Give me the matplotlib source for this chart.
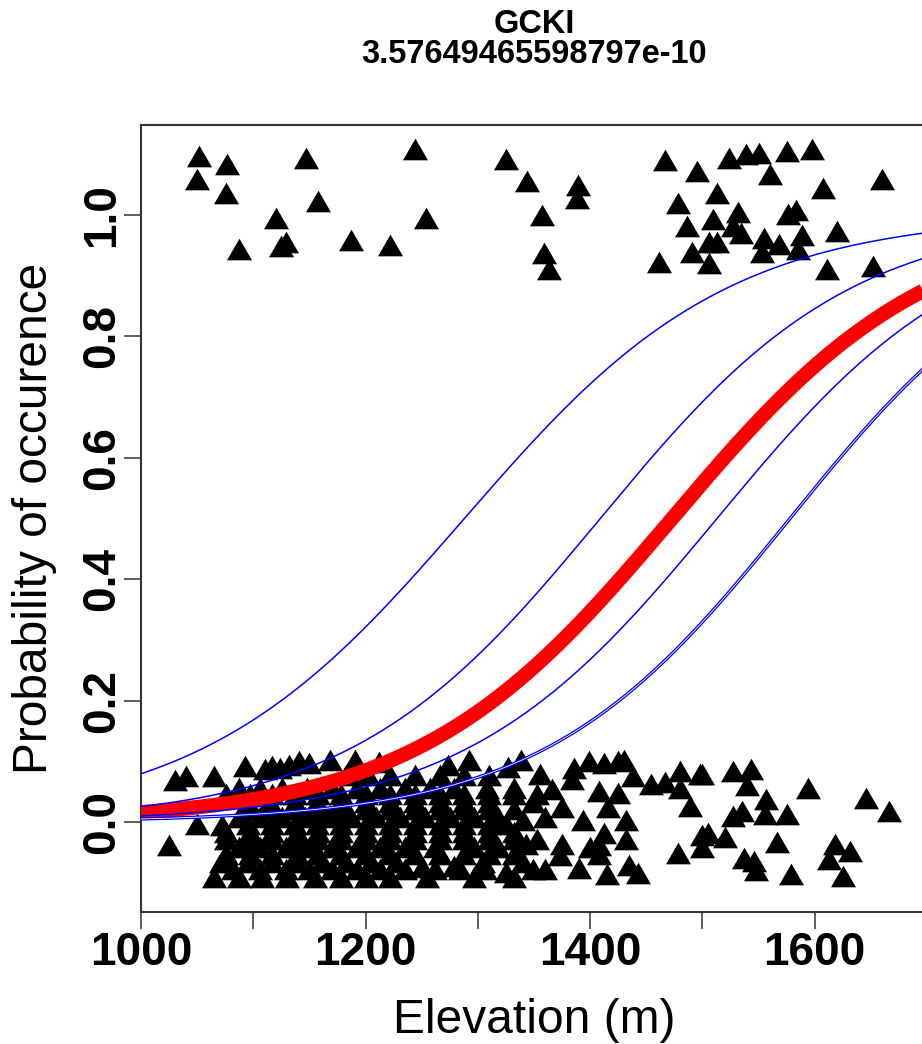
import numpy as np
import matplotlib
matplotlib.use("Agg")
import matplotlib.pyplot as plt

plt.rcParams['font.family'] = ['Liberation Sans', 'DejaVu Sans']

# ---------------- data ----------------
species = "GCKI"
p_value_text = "3.57649465598797e-10"

# presence points (jittered around 1)
pres_elev = [1052, 1077, 1050, 1076, 1147, 1158, 1244, 1120, 1254, 1087, 1129, 1125,
             1187, 1222, 1325, 1344, 1357, 1389, 1388, 1359, 1363, 1467, 1495, 1524,
             1539, 1550, 1575, 1598, 1560, 1660, 1513, 1478, 1532, 1607, 1583, 1576,
             1509, 1486, 1527, 1534, 1506, 1513, 1491, 1555, 1553, 1568, 1585, 1589,
             1620, 1506, 1461, 1611, 1652]
pres_y = [1.097, 1.084, 1.059, 1.036, 1.094, 1.023, 1.108, 0.995, 0.995, 0.944, 0.956, 0.949,
          0.959, 0.951, 1.092, 1.056, 1.000, 1.049, 1.028, 0.938, 0.911, 1.090, 1.072, 1.094,
          1.100, 1.102, 1.105, 1.108, 1.067, 1.059, 1.036, 1.020, 1.005, 1.044, 1.008, 1.002,
          0.993, 0.982, 0.982, 0.970, 0.956, 0.956, 0.939, 0.962, 0.939, 0.952, 0.944, 0.967,
          0.974, 0.921, 0.923, 0.911, 0.916]

# absence points (jittered around 0): clearly separable ones
abs_elev = [1030, 1040, 1065, 1093, 1025, 1050, 1072, 1110, 1117, 1124, 1132, 1141,
            1150, 1168, 1191, 1212, 1273, 1292, 1327, 1338, 1308, 1250, 1279, 1255,
            1325, 1386, 1399, 1412, 1425, 1430, 1438, 1454, 1467, 1480, 1498, 1408,
            1425, 1416, 1432, 1432, 1412, 1408, 1478, 1489, 1480, 1500, 1435, 1443,
            1415, 1384, 1366, 1355, 1375, 1394, 1360, 1343, 1375, 1400, 1373, 1360,
            1390, 1408, 1332, 1340, 1500, 1527, 1543, 1540, 1594, 1557, 1575, 1556,
            1535, 1527, 1505, 1520, 1500, 1566, 1537, 1546, 1548, 1579, 1618, 1631,
            1613, 1625, 1646, 1666]
abs_y = [0.070, 0.076, 0.076, 0.092, -0.037, -0.003, -0.005, 0.087, 0.092, 0.089, 0.094, 0.100,
         0.097, 0.103, 0.102, 0.099, 0.094, 0.102, 0.090, 0.103, 0.057, -0.074, -0.072, -0.090,
         -0.082, 0.089, 0.100, 0.097, 0.100, 0.103, 0.076, 0.062, 0.066, 0.085, 0.080, 0.051,
         0.048, 0.025, 0.003, -0.028, -0.018, -0.038, -0.051, 0.026, 0.057, -0.021, -0.071, -0.084,
         -0.085, 0.071, 0.054, 0.079, 0.025, 0.003, 0.008, -0.036, -0.036, -0.041, -0.054, -0.077,
         -0.076, -0.053, -0.090, 0.003, 0.079, 0.084, 0.087, 0.061, 0.057, 0.038, 0.013, 0.013,
         0.018, 0.010, -0.018, -0.025, -0.041, -0.033, -0.059, -0.064, -0.079, -0.085, -0.036, -0.048,
         -0.061, -0.089, 0.039, 0.018]

# absence points inside the dense overlapping mass (1060-1350 m), estimated
dense_elev = [1183, 1202, 1222, 1244, 1266, 1288, 1310,
              1087, 1106, 1126, 1148, 1170, 1192, 1213, 1235, 1257, 1279, 1332,
              1076, 1097, 1117, 1137, 1158, 1178, 1200, 1222, 1244, 1266, 1288, 1310, 1332, 1353,
              1095, 1115, 1137, 1157, 1178, 1200, 1222, 1244, 1266, 1288, 1310, 1349,
              1095, 1117, 1137, 1157, 1178, 1200, 1222, 1244, 1266, 1288, 1310, 1332,
              1087, 1106, 1126, 1146, 1167, 1187, 1209, 1231, 1253, 1275, 1297, 1318,
              1095, 1117, 1137, 1157, 1178, 1200, 1222, 1244, 1266, 1288, 1310, 1325,
              1076, 1097, 1117, 1139, 1158, 1178, 1200, 1222, 1244, 1266, 1288, 1310, 1332,
              1076, 1097, 1117, 1139, 1158, 1178, 1200, 1222, 1244, 1266, 1288, 1310, 1332, 1353,
              1087, 1106, 1129, 1150, 1170, 1192, 1213, 1235, 1262, 1297, 1318,
              1076, 1097, 1117, 1139, 1158, 1178, 1200, 1222, 1244, 1266, 1288, 1310, 1332,
              1071, 1095, 1117, 1139, 1161, 1183, 1205, 1227, 1305, 1340,
              1082, 1106, 1129, 1150, 1170, 1192, 1213, 1235, 1262, 1284, 1306, 1349,
              1065, 1087, 1108, 1130, 1155, 1178, 1200, 1222, 1297]
dense_y = [0.077, 0.077, 0.077, 0.077, 0.077, 0.077, 0.077,
           0.057, 0.057, 0.057, 0.057, 0.057, 0.057, 0.057, 0.057, 0.057, 0.057, 0.057,
           0.046, 0.046, 0.046, 0.046, 0.046, 0.046, 0.046, 0.046, 0.046, 0.046, 0.046, 0.046, 0.046, 0.046,
           0.033, 0.033, 0.033, 0.033, 0.033, 0.033, 0.033, 0.033, 0.033, 0.033, 0.033, 0.033,
           0.021, 0.021, 0.021, 0.021, 0.021, 0.021, 0.021, 0.021, 0.021, 0.021, 0.021, 0.021,
           0.008, 0.008, 0.008, 0.008, 0.008, 0.008, 0.008, 0.008, 0.008, 0.008, 0.008, 0.008,
           -0.003, -0.003, -0.003, -0.003, -0.003, -0.003, -0.003, -0.003, -0.003, -0.003, -0.003, -0.003,
           -0.016, -0.016, -0.016, -0.016, -0.016, -0.016, -0.016, -0.016, -0.016, -0.016, -0.016, -0.016, -0.016,
           -0.028, -0.028, -0.028, -0.028, -0.028, -0.028, -0.028, -0.028, -0.028, -0.028, -0.028, -0.028, -0.028, -0.028,
           -0.041, -0.041, -0.041, -0.041, -0.041, -0.041, -0.041, -0.041, -0.041, -0.041, -0.041,
           -0.053, -0.053, -0.053, -0.053, -0.053, -0.053, -0.053, -0.053, -0.053, -0.053, -0.053, -0.053, -0.053,
           -0.066, -0.066, -0.066, -0.066, -0.066, -0.066, -0.066, -0.066, -0.066, -0.066,
           -0.077, -0.077, -0.077, -0.077, -0.077, -0.077, -0.077, -0.077, -0.077, -0.077, -0.077, -0.077,
           -0.090, -0.090, -0.090, -0.090, -0.090, -0.090, -0.090, -0.090, -0.090]

# logistic fits: (midpoint elevation, slope)
fit_main = (1473, 0.0087)
fit_alt = [(1288, 0.0085), (1409, 0.0089), (1513, 0.0089)]
fit_alt_double = (1578, 0.0091)

x_ticks = [1000, 1100, 1200, 1300, 1400, 1500, 1600, 1700]
x_tick_labels = ["1000", "", "1200", "", "1400", "", "1600", ""]
y_ticks = [0.0, 0.2, 0.4, 0.6, 0.8, 1.0]
y_tick_labels = ["0.0", "0.2", "0.4", "0.6", "0.8", "1.0"]

# ---------------- plot ----------------
W, H = 922, 1044
fig = plt.figure(figsize=(W / 100, H / 100), dpi=100)
ax_left, ax_right, ax_top, ax_bottom = 141, 927, 125, 912
ax = fig.add_axes([ax_left / W, 1 - ax_bottom / H, (ax_right - ax_left) / W, (ax_bottom - ax_top) / H])

tri = [(0, 0.866), (1, -0.866), (-1, -0.866)]
msz = 18.0 ** 2
ax.scatter(pres_elev, pres_y, marker=tri, s=msz, c='black', linewidths=0, zorder=2)
ax.scatter(abs_elev, abs_y, marker=tri, s=msz, c='black', linewidths=0, zorder=2)
ax.scatter(dense_elev, dense_y, marker=tri, s=msz, c='black', linewidths=0, zorder=2)

xx = np.linspace(1000, 1700, 600)

def logistic(x, m, b):
    return 1.0 / (1.0 + np.exp(-b * (x - m)))

ax.plot(xx, logistic(xx, *fit_main), color='#ff0000', lw=10.5, solid_capstyle='butt', zorder=3)
for m, b in fit_alt:
    ax.plot(xx, logistic(xx, m, b), color='#0000ff', lw=1.1, zorder=4)
ax.plot(xx, logistic(xx, *fit_alt_double), color='#0000ff', lw=2.4, zorder=4)
ax.plot(xx, logistic(xx, *fit_alt_double), color='white', lw=0.6, zorder=5)

ax.set_xlim(1000, 1000 + (ax_right - ax_left) / 1.1433)
ax.set_ylim(-0.148, 1.148)

ax.set_xticks(x_ticks)
ax.set_xticklabels(x_tick_labels, fontsize=33, fontweight='bold')
ax.set_yticks(y_ticks)
ax.set_yticklabels(y_tick_labels, fontsize=33, fontweight='bold', rotation=90, va='center')
ax.tick_params(axis='both', length=12, width=1.1, direction='out', color='#333333')
ax.tick_params(axis='x', pad=1.5)
ax.tick_params(axis='y', pad=0)
for s in ax.spines.values():
    s.set_linewidth(1.5)
    s.set_color('#333333')

fig.text(534 / W, 1 - 33 / H, species, ha='center', va='baseline', fontsize=23.5, fontweight='bold')
fig.text(534 / W, 1 - 63 / H, p_value_text, ha='center', va='baseline', fontsize=23.5, fontweight='bold')
fig.text(534 / W, 1 - 1033 / H, "Elevation (m)", ha='center', va='baseline', fontsize=34.5)
fig.text(35 / W, 1 - 518 / H, "Probability of occurence", ha='center', va='center', rotation=90, fontsize=34.5)

fig.savefig("out.png", dpi=100)
